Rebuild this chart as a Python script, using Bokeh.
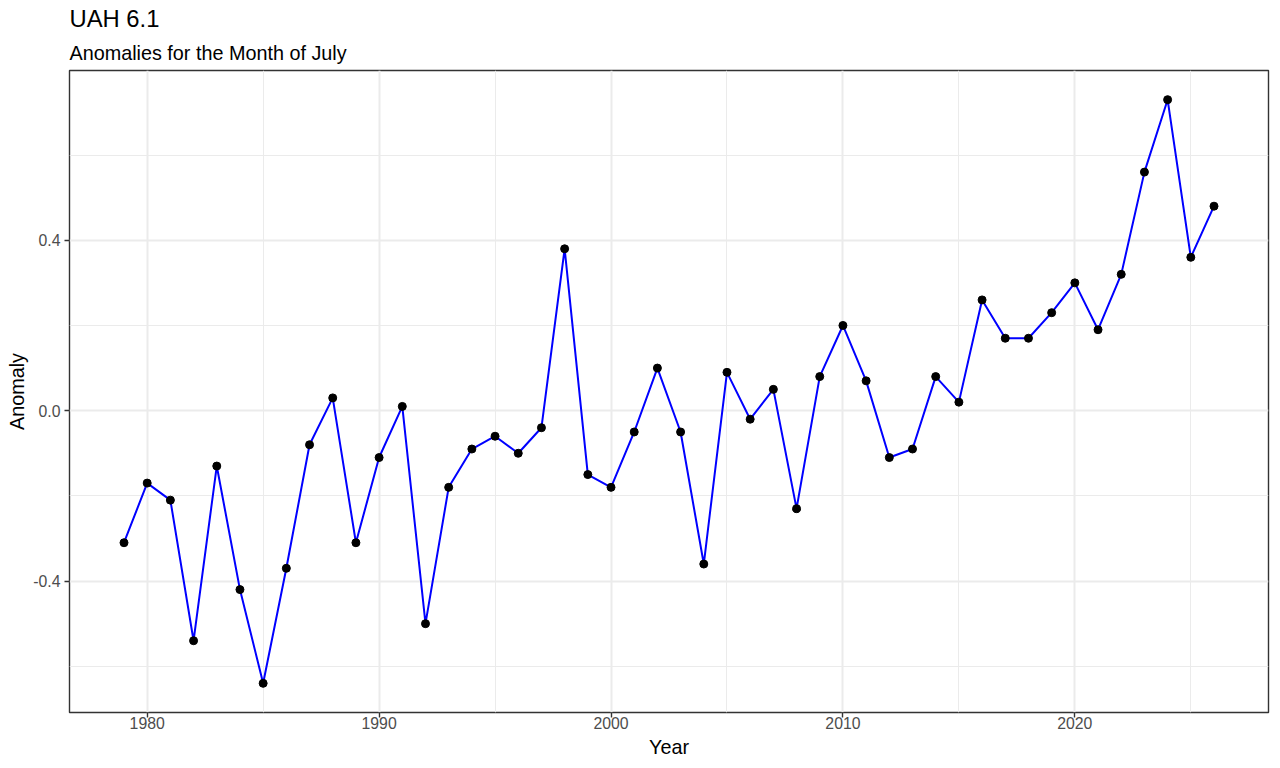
from bokeh.plotting import figure
from bokeh.models import Range1d, FixedTicker, NumeralTickFormatter, Title
from bokeh.embed import file_html
from bokeh.resources import INLINE

years = list(range(1979, 2027))
anomalies = [-0.31, -0.17, -0.21, -0.54, -0.13, -0.42, -0.64, -0.37, -0.08, 0.03,
             -0.31, -0.11, 0.01, -0.50, -0.18, -0.09, -0.06, -0.10, -0.04, 0.38,
             -0.15, -0.18, -0.05, 0.10, -0.05, -0.36, 0.09, -0.02, 0.05, -0.23,
             0.08, 0.20, 0.07, -0.11, -0.09, 0.08, 0.02, 0.26, 0.17, 0.17,
             0.23, 0.30, 0.19, 0.32, 0.56, 0.73, 0.36, 0.48]
x_major = [1980, 1990, 2000, 2010, 2020]
x_minor = [1975, 1985, 1995, 2005, 2015, 2025]
y_major = [-0.4, 0.0, 0.4]
y_minor = [-0.6, -0.2, 0.2, 0.6]

FONT = "Liberation Sans"

xpad = (max(years) - min(years)) * 0.05
ypad = (max(anomalies) - min(anomalies)) * 0.05

p = figure(width=1272, height=760, output_backend="svg", toolbar_location=None,
           x_range=Range1d(min(years) - xpad, max(years) + xpad),
           y_range=Range1d(min(anomalies) - ypad, max(anomalies) + ypad),
           min_border_left=69, min_border_right=4, min_border_top=10, min_border_bottom=47,
           x_axis_label="Year", y_axis_label="Anomaly")

p.add_layout(Title(text="Anomalies for the Month of July", text_font=FONT,
                   text_font_size="19.8px", text_font_style="normal",
                   text_color="black", align="left", standoff=13), "above")
p.add_layout(Title(text="UAH 6.1", text_font=FONT, text_font_size="23.8px",
                   text_font_style="normal", text_color="black", align="left",
                   standoff=4), "above")

p.outline_line_color = "#333333"
p.outline_line_width = 1.4
p.background_fill_color = "white"
p.border_fill_color = "white"

p.xaxis.ticker = FixedTicker(ticks=x_major, minor_ticks=x_minor)
p.yaxis.ticker = FixedTicker(ticks=y_major, minor_ticks=y_minor)
p.yaxis.formatter = NumeralTickFormatter(format="0.0")

for ax in (p.xaxis[0], p.yaxis[0]):
    ax.axis_line_color = None
    ax.major_tick_line_color = "#333333"
    ax.major_tick_line_width = 1.4
    ax.major_tick_in = 0
    ax.major_tick_out = 5
    ax.minor_tick_line_color = None
    ax.major_label_text_font = FONT
    ax.major_label_text_font_size = "15.8px"
    ax.major_label_text_color = "#4D4D4D"
    ax.axis_label_text_font = FONT
    ax.axis_label_text_font_size = "19.8px"
    ax.axis_label_text_font_style = "normal"
    ax.axis_label_text_color = "black"

p.xaxis[0].major_label_standoff = -1
p.xaxis[0].axis_label_standoff = 4
p.yaxis[0].major_label_standoff = 4
p.yaxis[0].axis_label_standoff = 2

for g in (p.xgrid[0], p.ygrid[0]):
    g.grid_line_color = "#EBEBEB"
    g.grid_line_width = 2
    g.minor_grid_line_color = "#EBEBEB"
    g.minor_grid_line_width = 1

p.line(years, anomalies, line_color="blue", line_width=2)
p.scatter(years, anomalies, size=8, fill_color="black", line_color="black")

open("out.html", "w").write(file_html(p, INLINE))
